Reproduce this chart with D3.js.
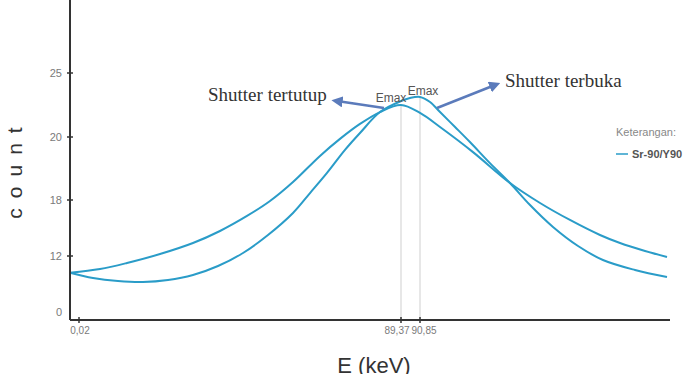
<!DOCTYPE html>
<html>
<head>
<meta charset="utf-8">
<script src="https://cdn.jsdelivr.net/npm/d3@7"></script>
<style>
  body { margin: 0; background: #fff; }
  svg { display: block; font-family: "Liberation Sans", Arial, sans-serif; }
  .curve { fill: none; stroke: #2a9cc8; stroke-width: 2; }
</style>
</head>
<body>
<svg id="chart" width="696" height="374"></svg>
<script>
// Axis ticks (the original axes are not linear, so the scales are piecewise)
const xTickValues = [0.02, 89.37, 90.85];
const xTickLabels = ['0,02', '89,37', '90,85'];
const yTickValues = [0, 12, 18, 20, 25];
const yTickLabels = ['0', '12', '18', '20', '25'];

// Shutter tertutup (closed), peak Emax at 89.37 keV
const closedEnergy = [-2.48, 5.85, 13.34, 22.50, 31.65, 39.14, 46.64, 53.02, 59.40, 66.89,
  72.44, 77.99, 83.54, 89.37, 90.85, 92.41, 94.98, 97.86, 100.20, 102.53, 104.87, 106.43,
  108.38, 110.09];
const closedCount = [8.42, 9.21, 10.50, 12.21, 13.39, 14.68, 16.29, 17.89, 18.57, 19.40,
  19.94, 21.02, 21.95, 22.50, 21.88, 20.78, 19.52, 18.54, 17.68, 15.86, 14.25, 13.39,
  12.54, 11.79];

// Shutter terbuka (open), peak Emax at 90.85 keV
const openEnergy = [-2.48, 3.90, 10.84, 17.78, 24.72, 31.65, 38.59, 45.53, 52.46, 59.40,
  64.12, 68.84, 73.83, 77.99, 83.54, 89.37, 90.07, 90.85, 91.63, 92.41, 93.58, 94.74,
  96.30, 97.86, 99.42, 101.21, 103.16, 105.10, 107.60, 110.09];
const openCount = [8.42, 7.29, 6.64, 6.43, 6.86, 7.93, 9.86, 12.32, 14.25, 16.61,
  18.22, 18.86, 19.59, 20.31, 21.95, 22.81, 23.05, 23.13, 22.73, 21.95, 20.78, 19.84,
  19.17, 18.54, 17.46, 15.11, 13.07, 11.14, 9.00, 7.50];

const peaks = [
  { energy: 89.37, count: 22.50, label: 'Emax', dx: -10, dy: -3 },
  { energy: 90.85, count: 23.13, label: 'Emax', dx: 3, dy: -2 }
];

const svg = d3.select('#chart');

const plot = { left: 70, right: 670, top: 0, bottom: 320 };

const xScale = d3.scaleLinear()
  .domain(xTickValues)
  .range([79, 401, 420]);

const yScale = d3.scaleLinear()
  .domain(yTickValues)
  .range([312, 256, 200, 137, 73]);

// Vertical guide lines at the two Emax positions
svg.append('g')
  .attr('class', 'guides')
  .selectAll('line')
  .data(peaks)
  .join('line')
  .attr('x1', d => xScale(d.energy))
  .attr('x2', d => xScale(d.energy))
  .attr('y1', d => yScale(d.count))
  .attr('y2', plot.bottom)
  .style('stroke', '#cfcfcf')
  .style('stroke-width', 1);

// Curves
const line = d3.line()
  .x(d => xScale(d[0]))
  .y(d => yScale(d[1]))
  .curve(d3.curveCatmullRom.alpha(0.5));

const series = [
  d3.zip(closedEnergy, closedCount),
  d3.zip(openEnergy, openCount)
];

svg.append('g')
  .selectAll('path')
  .data(series)
  .join('path')
  .attr('class', 'curve')
  .attr('d', line);

// Y axis
const yAxis = svg.append('g')
  .attr('class', 'y-axis')
  .attr('transform', `translate(${plot.left}, 0)`);

yAxis.append('line')
  .attr('y1', plot.top)
  .attr('y2', plot.bottom)
  .style('stroke', '#333')
  .style('stroke-width', 2);

yAxis.selectAll('line.tick')
  .data(yTickValues.slice(1))
  .join('line')
  .attr('class', 'tick')
  .attr('x1', -3)
  .attr('x2', 3)
  .attr('y1', d => yScale(d))
  .attr('y2', d => yScale(d))
  .style('stroke', '#333')
  .style('stroke-width', 1.5);

yAxis.selectAll('text')
  .data(yTickValues)
  .join('text')
  .attr('x', -8)
  .attr('y', d => yScale(d))
  .attr('dy', '0.35em')
  .attr('text-anchor', 'end')
  .style('font-size', '11px')
  .style('fill', '#7a7a7a')
  .text((d, i) => yTickLabels[i]);

// X axis
const xAxis = svg.append('g')
  .attr('class', 'x-axis')
  .attr('transform', `translate(0, ${plot.bottom})`);

xAxis.append('line')
  .attr('x1', plot.left)
  .attr('x2', plot.right)
  .style('stroke', '#333')
  .style('stroke-width', 2);

xAxis.selectAll('line.tick')
  .data(xTickValues)
  .join('line')
  .attr('class', 'tick')
  .attr('x1', d => xScale(d))
  .attr('x2', d => xScale(d))
  .attr('y1', -3)
  .attr('y2', 3)
  .style('stroke', '#333')
  .style('stroke-width', 1.5);

// The last two labels sit almost on top of each other, nudge them apart
const xLabelShift = [1, -4, 4];
xAxis.selectAll('text')
  .data(xTickValues)
  .join('text')
  .attr('x', (d, i) => xScale(d) + xLabelShift[i])
  .attr('y', 14)
  .attr('text-anchor', 'middle')
  .style('font-size', '10px')
  .style('fill', '#7a7a7a')
  .text((d, i) => xTickLabels[i]);

// Axis titles
svg.append('text')
  .attr('transform', 'translate(22, 168) rotate(-90)')
  .attr('text-anchor', 'middle')
  .style('font-size', '21px')
  .style('letter-spacing', '10px')
  .style('fill', '#333')
  .text('count');

// Sits on the bottom edge, as in the original
svg.append('text')
  .attr('x', 374)
  .attr('y', 373)
  .attr('text-anchor', 'middle')
  .style('font-size', '22px')
  .style('fill', '#333')
  .text('E (keV)');

// Emax labels
svg.append('g')
  .selectAll('text')
  .data(peaks)
  .join('text')
  .attr('x', d => xScale(d.energy) + d.dx)
  .attr('y', d => yScale(d.count) + d.dy)
  .attr('text-anchor', 'middle')
  .style('font-size', '12px')
  .style('fill', '#555')
  .text(d => d.label);

// Annotation arrows
svg.append('defs')
  .append('marker')
  .attr('id', 'arrow')
  .attr('viewBox', '0 0 10 10')
  .attr('refX', 5)
  .attr('refY', 5)
  .attr('markerWidth', 4.5)
  .attr('markerHeight', 4.5)
  .attr('orient', 'auto-start-reverse')
  .append('path')
  .attr('d', 'M0,0 L10,5 L0,10 z')
  .style('fill', '#5b7bbb');

const arrows = [
  { x1: 384, y1: 108, x2: 337, y2: 101 },
  { x1: 437, y1: 108, x2: 495, y2: 85 }
];

svg.append('g')
  .selectAll('line')
  .data(arrows)
  .join('line')
  .attr('x1', d => d.x1)
  .attr('y1', d => d.y1)
  .attr('x2', d => d.x2)
  .attr('y2', d => d.y2)
  .attr('marker-end', 'url(#arrow)')
  .style('stroke', '#5b7bbb')
  .style('stroke-width', 2.5);

const notes = [
  { text: 'Shutter tertutup', x: 208, y: 101 },
  { text: 'Shutter terbuka', x: 505, y: 87 }
];

svg.append('g')
  .selectAll('text')
  .data(notes)
  .join('text')
  .attr('x', d => d.x)
  .attr('y', d => d.y)
  .style('font-family', '"Liberation Serif", "Times New Roman", serif')
  .style('font-size', '19px')
  .style('fill', '#333')
  .text(d => d.text);

// Legend
const legend = svg.append('g')
  .attr('transform', 'translate(616, 0)');

legend.append('text')
  .attr('y', 136)
  .style('font-size', '11px')
  .style('fill', '#888')
  .text('Keterangan:');

legend.append('line')
  .attr('x1', 0)
  .attr('x2', 12)
  .attr('y1', 154)
  .attr('y2', 154)
  .style('stroke', '#2a9cc8')
  .style('stroke-width', 1.5);

legend.append('text')
  .attr('x', 16)
  .attr('y', 158)
  .style('font-size', '11px')
  .style('font-weight', 'bold')
  .style('fill', '#555')
  .text('Sr-90/Y90');
</script>
</body>
</html>
